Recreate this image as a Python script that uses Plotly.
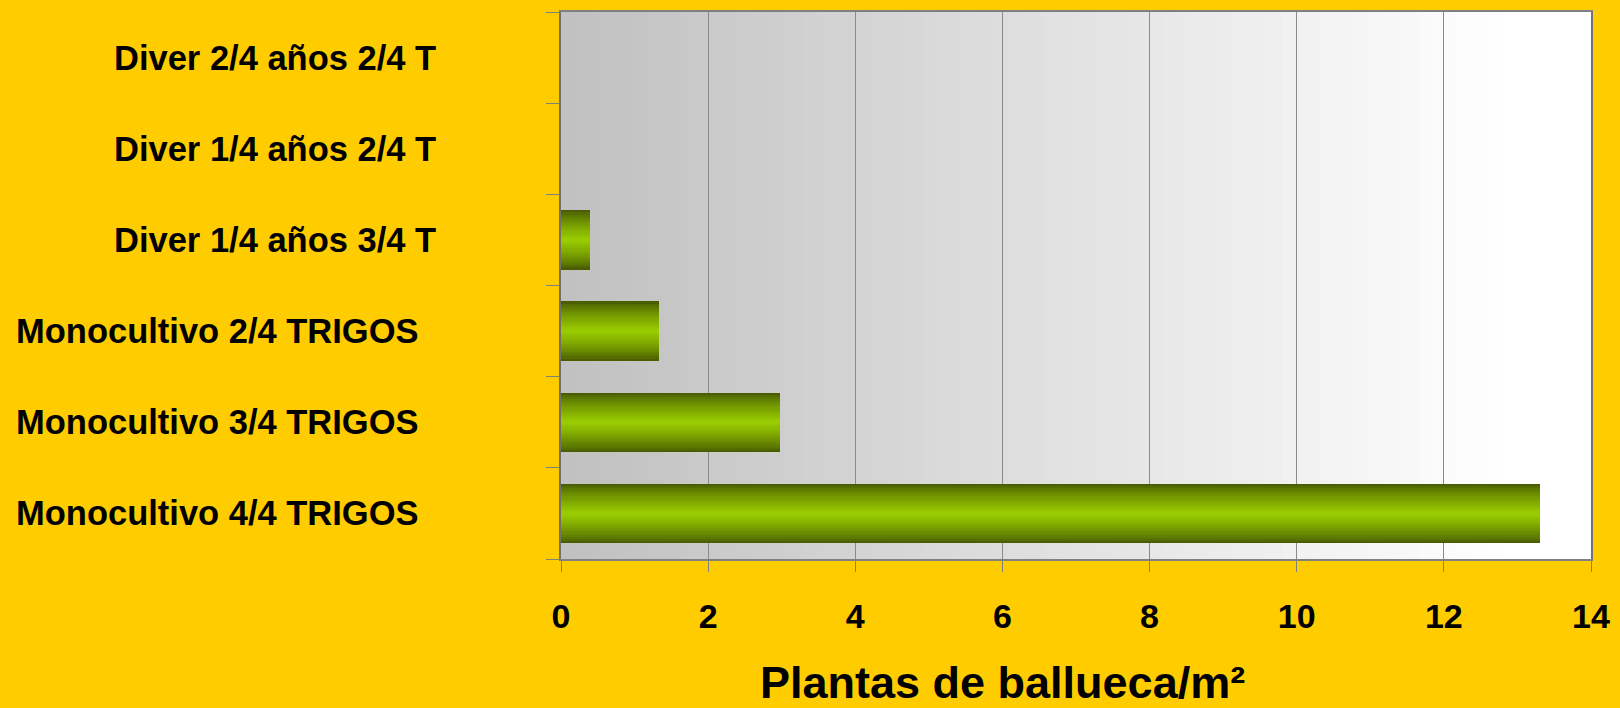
import plotly.graph_objects as go

# ---- data ----
categories = [
    "Monocultivo 4/4 TRIGOS",
    "Monocultivo 3/4 TRIGOS",
    "Monocultivo 2/4 TRIGOS",
    "Diver 1/4 años 3/4 T",
    "Diver 1/4 años 2/4 T",
    "Diver 2/4 años 2/4 T",
]
plantas = [13.3, 2.97, 1.33, 0.4, 0.0, 0.0]
x_ticks = [0, 2, 4, 6, 8, 10, 12, 14]
axis_title = "Plantas de ballueca/m²"

W, H = 1620, 708
L, R, T, B = 561, 28, 10, 149
plot_w = W - L - R

fig = go.Figure()

# bar with vertical gradient: layered overlay bars (dark edges -> bright centre)
dark = (0x4A, 0x5E, 0x00)
bright = (0x99, 0xCC, 0x00)
n_layers = 14
full_w = 0.65
for i in range(n_layers):
    t = i / (n_layers - 1)
    f = t ** 0.8
    col = tuple(int(round(dark[k] + (bright[k] - dark[k]) * f)) for k in range(3))
    w = full_w * (1 - i / n_layers)
    fig.add_trace(go.Bar(
        y=categories, x=plantas, orientation="h",
        width=[w] * len(categories),
        marker=dict(color="rgb(%d,%d,%d)" % col, line=dict(width=0)),
        showlegend=False, hoverinfo="x+y" if i == 0 else "skip",
    ))

# plot-area horizontal gradient background (grey -> white)
shapes = []
n_bands = 60
for i in range(n_bands):
    x0 = i / n_bands
    x1 = (i + 1) / n_bands
    t = min(1.0, (x0 + x1) / 2 / 0.92)
    v = int(round(192 + (255 - 192) * t))
    shapes.append(dict(type="rect", xref="x domain", yref="y domain",
                       x0=x0, x1=x1 + 0.002, y0=0, y1=1, layer="below",
                       line=dict(width=0), fillcolor="rgb(%d,%d,%d)" % (v, v, v)))

# category labels as annotations (right-aligned, slight offsets as in reference)
annotations = []
for c in categories:
    right_px = 421 if c.startswith("Monocultivo") else 438
    annotations.append(dict(
        x=(right_px - L) / plot_w, xref="paper", y=c, yref="y",
        text="<b>" + c + "</b>", showarrow=False, xanchor="right", yanchor="middle",
        font=dict(family="Liberation Sans, Arial, sans-serif", size=34.5, color="black"),
    ))

annotations.append(dict(
    x=(1003 - L) / plot_w, xref="paper", y=-0.226, yref="paper",
    text="<b>" + axis_title + "</b>", showarrow=False, xanchor="center", yanchor="middle",
    font=dict(family="Liberation Sans, Arial, sans-serif", size=45, color="black"),
))

fig.update_layout(
    width=W, height=H,
    margin=dict(l=L, r=R, t=T, b=B),
    paper_bgcolor="#FFCC00",
    plot_bgcolor="#FFFFFF",
    barmode="overlay",
    bargap=0,
    shapes=shapes,
    annotations=annotations,
    font=dict(family="Liberation Sans, Arial, sans-serif", color="black"),
)

fig.update_xaxes(
    range=[0, 14], tickvals=x_ticks, ticktext=["<b>%d</b>" % v for v in x_ticks],
    tickfont=dict(size=34, color="black"),
    showgrid=True, gridcolor="#8a8a8a", gridwidth=1,
    showline=True, linecolor="#808080", linewidth=2, mirror=True,
    ticks="outside", ticklen=11, tickcolor="#808080", tickwidth=1,
    ticklabelstandoff=15,
    zeroline=False,
)
fig.update_yaxes(
    type="category", categoryorder="array", categoryarray=categories,
    range=[-0.5, len(categories) - 0.5],
    showticklabels=False,
    showgrid=False,
    showline=True, linecolor="#707070", linewidth=2, mirror=True,
    ticks="outside", tickson="boundaries", ticklen=13, tickcolor="#808080", tickwidth=1,
)

fig.write_html(
    "out.html",
    config={"displayModeBar": False},
    post_script="document.body.style.margin='0';document.body.style.background='#FFCC00';",
)
